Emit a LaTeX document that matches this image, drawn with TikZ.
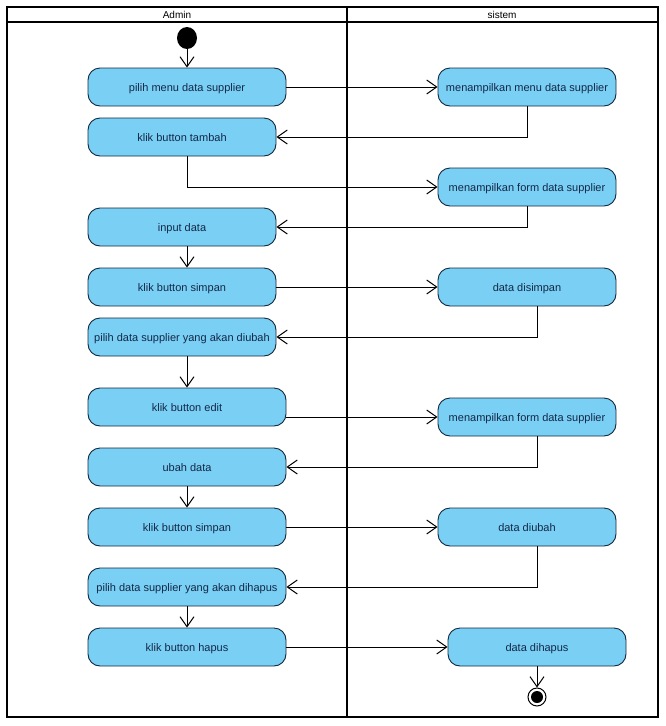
\documentclass[tikz,border=0pt]{standalone}
\usepackage{fontspec}
\setmainfont{Liberation Sans}
\usetikzlibrary{arrows.meta}
\definecolor{actfill}{RGB}{122,207,245}
\definecolor{actdraw}{RGB}{20,40,60}
\definecolor{acttext}{RGB}{20,40,70}
\tikzset{
  act/.style={draw=actdraw, line width=0.9pt, fill=actfill, rounded corners=12pt,
    minimum height=38pt, text=acttext, font=\fontsize{11}{13}\selectfont, inner sep=0pt,
    text height=10pt, text depth=2pt},
  actw/.style={act, minimum width=198pt},
  actn/.style={act, minimum width=188pt},
  acts/.style={act, minimum width=178pt},
  flow/.style={draw=black, line width=0.9pt, -{Straight Barb[length=10pt,width=14pt,line width=1pt]}},
  frame/.style={draw=black, line width=2.5pt},
  lanehead/.style={font=\fontsize{10}{11}\selectfont, inner sep=0pt}
}
\begin{document}
\begin{tikzpicture}[x=1pt,y=-1pt]
\useasboundingbox (0,0) rectangle (666,726);
% swimlane frame
\draw[frame] (7,7) rectangle (658,717);
\draw[frame] (7,22) -- (658,22);
\draw[frame] (347,7) -- (347,717);
\node[lanehead] (hA) at (177,15) {Admin};
\node[lanehead] (hS) at (502,15) {sistem};

% start / end
\node[circle, fill=black, minimum width=18pt, minimum height=20pt, inner sep=0pt, yscale=1.1] (s) at (187,38) {};
\node[circle, draw=black, line width=1pt, fill=white, minimum size=18pt, inner sep=0pt] (e) at (537,697) {};
\fill[black] (e.center) circle (6pt);

% Admin activities
\node[actw] (n1) at (187,87) {pilih menu data supplier};
\node[actn] (n2) at (182,137) {klik button tambah};
\node[actn] (n5) at (182,227) {input data};
\node[actn] (n6) at (182,287) {klik button simpan};
\node[actn] (n8) at (182,337) {pilih data supplier yang akan diubah};
\node[actw] (n9) at (187,407) {klik button edit};
\node[actw] (n11) at (187,467) {ubah data};
\node[actw] (n12) at (187,527) {klik button simpan};
\node[actw] (n14) at (187,587) {pilih data supplier yang akan dihapus};
\node[actw] (n15) at (187,647) {klik button hapus};

% sistem activities
\node[acts] (n3) at (527,87) {menampilkan menu data supplier};
\node[acts] (n4) at (527,187) {menampilkan form data supplier};
\node[acts] (n7) at (527,287) {data disimpan};
\node[acts] (n10) at (527,417) {menampilkan form data supplier};
\node[acts] (n13) at (527,527) {data diubah};
\node[acts] (n16) at (537,647) {data dihapus};

% flows
\draw[flow] (s) -- (n1);
\draw[flow] (n1) -- (n3);
\draw[flow] (n3.south) |- (n2);
\draw[flow] (n2.south -| n1.south) |- (n4);
\draw[flow] (n4.south) |- (n5);
\draw[flow] (n5.south -| n1.south) -- (n6.north -| n1.south);
\draw[flow] (n6) -- (n7);
\draw[flow] ([xshift=10pt]n7.south) |- (n8);
\draw[flow] (n8.south -| n1.south) -- (n9.north -| n1.south);
\draw[flow] (n9.east |- n10) -- (n10);
\draw[flow] ([xshift=10pt]n10.south) |- (n11);
\draw[flow] (n11) -- (n12);
\draw[flow] (n12) -- (n13);
\draw[flow] ([xshift=10pt]n13.south) |- (n14);
\draw[flow] (n14) -- (n15);
\draw[flow] (n15) -- (n16);
\draw[flow] (n16) -- (e);
\end{tikzpicture}
\end{document}
